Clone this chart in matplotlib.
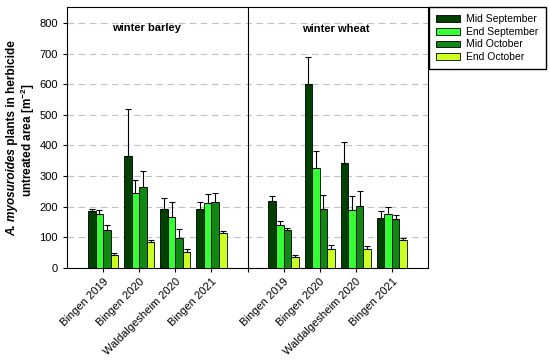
import matplotlib
matplotlib.use("Agg")
import matplotlib.pyplot as plt
import numpy as np

plt.rcParams["font.family"] = ["Liberation Sans", "DejaVu Sans"]
plt.rcParams["mathtext.fontset"] = "custom"
plt.rcParams["mathtext.rm"] = "Liberation Sans"
plt.rcParams["mathtext.bf"] = "Liberation Sans:bold"
plt.rcParams["mathtext.it"] = "Liberation Sans:italic"

sites = ["Bingen 2019", "Bingen 2020", "Waldalgesheim 2020", "Bingen 2021"]
series = ["Mid September", "End September", "Mid October", "End October"]
colors = ["#004000", "#33ff33", "#118811", "#ccff22"]

# winter barley
barley_mean = {
    "Mid September": [185, 365, 191, 191],
    "End September": [176, 243, 165, 211],
    "Mid October":   [124, 263, 97, 214],
    "End October":   [40, 83, 51, 113],
}
barley_top = {
    "Mid September": [192, 520, 229, 216],
    "End September": [189, 287, 214, 240],
    "Mid October":   [140, 317, 125, 243],
    "End October":   [47, 90, 61, 119],
}
# winter wheat
wheat_mean = {
    "Mid September": [217, 599, 342, 163],
    "End September": [139, 326, 190, 176],
    "Mid October":   [123, 192, 203, 159],
    "End October":   [35, 61, 61, 90],
}
wheat_top = {
    "Mid September": [233, 688, 412, 185],
    "End September": [152, 382, 235, 198],
    "Mid October":   [130, 237, 251, 172],
    "End October":   [42, 75, 70, 97],
}

W, H = 550, 361
fig = plt.figure(figsize=(W / 100, H / 100), dpi=100)
ax = fig.add_axes([67 / W, 1 - 267.7 / H, (428 - 67) / W, (267.7 - 7) / H])

barley_pos = np.array([1, 2, 3, 4])
wheat_pos = np.array([6, 7, 8, 9])
w = 0.21
handles = []
for i, s in enumerate(series):
    off = (i - 1.5) * w
    for pos, mean, top in ((barley_pos, barley_mean, barley_top), (wheat_pos, wheat_mean, wheat_top)):
        m = np.array(mean[s])
        t = np.array(top[s])
        b = ax.bar(pos + off, m, width=w, color=colors[i], edgecolor="black", linewidth=0.6, zorder=3)
        ax.errorbar(pos + off, m, yerr=[np.zeros_like(m), t - m], fmt="none", ecolor="black",
                    elinewidth=0.8, capsize=2.5, capthick=0.8, zorder=4)
        if pos is barley_pos:
            handles.append(b)

ax.set_xlim(0, 10)
ax.set_ylim(0, 852)
ax.set_yticks(np.arange(0, 801, 100))
ax.yaxis.grid(True, color="#c0c0c0", linestyle=(0, (6, 4)), linewidth=0.8, zorder=0)
ax.set_axisbelow(True)
ax.axvline(5, color="black", linewidth=0.8, zorder=2)

ax.set_xticks(list(barley_pos) + [5] + list(wheat_pos))
ax.set_xticklabels(sites + [""] + sites, rotation=45, ha="right", rotation_mode="anchor", fontsize=8)
ax.tick_params(axis="y", labelsize=8, length=3)
ax.tick_params(axis="x", length=3)
for sp in ax.spines.values():
    sp.set_linewidth(0.8)

ax.text(2.2, 782, "winter barley", fontsize=8, fontweight="bold", ha="center", va="center")
ax.text(7.45, 780, "winter wheat", fontsize=8, fontweight="bold", ha="center", va="center")

# y label built from pieces (italic species name)
fs_lab = 8.5
renderer = fig.canvas.get_renderer()
p1 = fig.text(0, 0, "A. myosuroides", fontsize=fs_lab, fontweight="bold", style="italic",
              rotation=90, ha="center", va="bottom")
p2 = fig.text(0, 0, " plants in herbicide", fontsize=fs_lab, fontweight="bold",
              rotation=90, ha="center", va="bottom")
l1 = p1.get_window_extent(renderer).height
l2 = p2.get_window_extent(renderer).height
cy = 138.0
y0 = (H - cy) - (l1 + l2) / 2
x1 = 12.0
p1.set_position((x1 / W, y0 / H))
p2.set_position((x1 / W, (y0 + l1) / H))
fig.text(28 / W, 1 - 140 / H, "untreated area [m$^{\\mathbf{-2}}$]", fontsize=fs_lab, fontweight="bold",
         rotation=90, ha="center", va="center")

fig.legend(handles, series, loc="upper left", bbox_to_anchor=(429 / W, 1 - 7 / H),
           fontsize=7.5, frameon=True, fancybox=False, edgecolor="black", framealpha=1,
           handlelength=2.3, handleheight=0.6, borderpad=0.7, labelspacing=0.25, handletextpad=0.6,
           borderaxespad=0)

fig.savefig("out.png", dpi=100)
